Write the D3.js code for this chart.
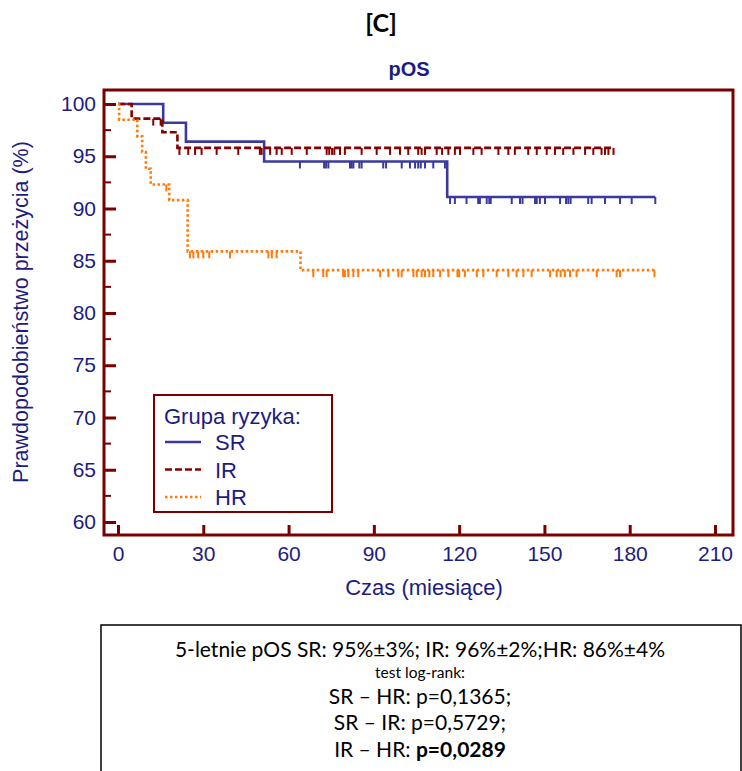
<!DOCTYPE html>
<html>
<head>
<meta charset="utf-8">
<script src="https://cdn.jsdelivr.net/npm/d3@7"></script>
<style>
  body { margin: 0; background: #fff; }
  svg { display: block; }
</style>
</head>
<body>
<svg id="chart" width="742" height="771"></svg>
<script>
// survival steps (months, %)
const srTimes = [0, 15.9, 23.9, 51.4, 115.8];
const srSurv = [100, 98.2, 96.4, 94.5, 91.1];
const srEnd = 189;
const srCens = [64, 72.5, 73.2, 74, 81.6, 82.2, 82.8, 84.9, 85.7, 93.3, 94.3, 99.8, 102.7, 104.5, 105.6, 106.5, 108, 110.9, 115,
  116.8, 118.5, 122.6, 126.7, 127.3, 129.7, 130.6, 131.1, 138.5, 141.4, 142.3, 146.7, 147.3, 148.4, 150.2, 155.5, 157.6, 158.4,
  159.2, 165.4, 166.6, 171.3, 176.6, 180.7, 189];

const irTimes = [0, 4.8, 15.6, 20.9];
const irSurv = [100, 98.6, 97.3, 95.8];
const irEnd = 174.5;
const irCens = [12.4, 15, 21.6, 24.7, 27.1, 29.4, 34.7, 42.3, 49.9, 50.5, 53.5, 55.8, 57.6, 61.1, 66.4, 73.4, 74.3, 75.3, 76.1,
  78.1, 79.8, 85.7, 91, 95.7, 99.2, 102.1, 105.6, 106.8, 108, 112.1, 114, 116.2, 118.5, 120.3, 125, 127.9, 133.8, 137.3, 139.6,
  144.3, 147.3, 150.8, 153.7, 156.6, 160.2, 164.3, 167.2, 170.1, 171.3, 172.5, 174.3];

const hrTimes = [0, 0.4, 6.8, 8.5, 9.8, 11.5, 18, 24.5, 64.2];
const hrSurv = [100, 98.5, 96.9, 95.4, 93.8, 92.3, 90.8, 85.9, 84.1];
const hrEnd = 189;
const hrCens = [17, 25.3, 26.5, 28.2, 30, 32.1, 39.4, 52.9, 54.1, 55.8, 68.7, 72.2, 73.4, 79.2, 79.8, 81, 82.8, 84.5, 92.2, 95.1,
  98.6, 99.8, 103.9, 105.1, 106.8, 108, 109.5, 110.9, 113.3, 116.2, 119.4, 120, 122, 126.2, 128.5, 133.2, 137.3, 140.2, 142.6,
  145.5, 152, 154.3, 155.7, 157.2, 159, 161.3, 168.4, 175.4, 176.6, 188.7];

const xTicks = [0, 30, 60, 90, 120, 150, 180, 210];
const yTicks = [60, 65, 70, 75, 80, 85, 90, 95, 100];
const legendLabels = ['SR', 'IR', 'HR'];
const statLines = [
  '5-letnie pOS SR: 95%±3%; IR: 96%±2%;HR: 86%±4%',
  'test log-rank:',
  'SR – HR: p=0,1365;',
  'SR – IR: p=0,5729;'
];

const frameCol = '#7a0000';
const navy = '#1c1c80';
const font = 'Liberation Sans, Arial, sans-serif';
const series = [
  { name: 'SR', times: srTimes, surv: srSurv, end: srEnd, cens: srCens, color: '#3a3a9e', dash: null },
  { name: 'IR', times: irTimes, surv: irSurv, end: irEnd, cens: irCens, color: '#850000', dash: '7,3' },
  { name: 'HR', times: hrTimes, surv: hrSurv, end: hrEnd, cens: hrCens, color: '#ff7a0a', dash: '2.5,2.5' }
];

const svg = d3.select('#chart');
svg.append('rect').attr('width', 742).attr('height', 771).attr('fill', '#fff');

const box = { left: 104, top: 90, right: 733, bottom: 535 };

const xScale = d3.scaleLinear().domain([0, 210]).range([118, 715]);
const yScale = d3.scaleLinear().domain([60, 100]).range([522, 104]);

// titles
svg.append('text').attr('x', 381).attr('y', 32).attr('text-anchor', 'middle')
  .style('font-family', 'Lato, Carlito, sans-serif').style('font-weight', 'bold').style('font-size', '25px')
  .attr('fill', '#000').text('[C]');
svg.append('text').attr('x', 409).attr('y', 76).attr('text-anchor', 'middle')
  .style('font-family', font).style('font-weight', 'bold').style('font-size', '20px')
  .attr('fill', navy).text('pOS');

// y axis
const yAxis = d3.axisLeft(yScale).tickValues(yTicks).tickSize(-12).tickPadding(8);
const yG = svg.append('g').attr('transform', `translate(${box.left},0)`).call(yAxis);
yG.select('.domain').remove();
yG.selectAll('.tick line').attr('stroke', frameCol).attr('stroke-width', 3);
yG.selectAll('.tick text').attr('fill', navy).style('font-family', font).style('font-size', '21px');

const yMinor = d3.range(62.5, 100, 5);
svg.append('g').selectAll('line').data(yMinor).join('line')
  .attr('x1', box.left).attr('x2', box.left + 7)
  .attr('y1', d => yScale(d)).attr('y2', d => yScale(d))
  .attr('stroke', frameCol).attr('stroke-width', 2);

// x axis
const xAxis = d3.axisBottom(xScale).tickValues(xTicks).tickSize(-10).tickPadding(11);
const xG = svg.append('g').attr('transform', `translate(0,${box.bottom})`).call(xAxis);
xG.select('.domain').remove();
xG.selectAll('.tick line').attr('stroke', frameCol).attr('stroke-width', 3);
xG.selectAll('.tick text').attr('fill', navy).style('font-family', font).style('font-size', '21px');

// frame
svg.append('rect')
  .attr('x', box.left).attr('y', box.top)
  .attr('width', box.right - box.left).attr('height', box.bottom - box.top)
  .attr('fill', 'none').attr('stroke', frameCol).attr('stroke-width', 3);

// axis titles
svg.append('text').attr('x', 424).attr('y', 595).attr('text-anchor', 'middle')
  .style('font-family', font).style('font-size', '22px').attr('fill', navy).text('Czas (miesiące)');
svg.append('text').attr('transform', 'translate(28,312) rotate(-90)').attr('text-anchor', 'middle')
  .style('font-family', font).style('font-size', '21.5px').attr('fill', navy).text('Prawdopodobieństwo przeżycia (%)');

// curves
const stepLine = d3.line().x(d => xScale(d[0])).y(d => yScale(d[1])).curve(d3.curveStepAfter);
function survAt(s, t) {
  let v = s.surv[0];
  s.times.forEach((tt, i) => { if (tt <= t) v = s.surv[i]; });
  return v;
}

series.forEach(s => {
  const pts = s.times.map((t, i) => [t, s.surv[i]]);
  pts.push([s.end, s.surv[s.surv.length - 1]]);
  svg.append('path').datum(pts)
    .attr('d', stepLine)
    .attr('fill', 'none').attr('stroke', s.color).attr('stroke-width', 2.6)
    .attr('stroke-dasharray', s.dash);
  svg.append('g').selectAll('line').data(s.cens).join('line')
    .attr('x1', d => xScale(d)).attr('x2', d => xScale(d))
    .attr('y1', d => yScale(survAt(s, d))).attr('y2', d => yScale(survAt(s, d)) + 7)
    .attr('stroke', s.color).attr('stroke-width', 2);
});

// legend
const lg = svg.append('g').attr('transform', 'translate(154,395)');
lg.append('rect').attr('width', 178).attr('height', 117).attr('fill', '#fff')
  .attr('stroke', frameCol).attr('stroke-width', 2);
lg.append('text').attr('x', 10).attr('y', 29).style('font-family', font).style('font-size', '22px')
  .attr('fill', navy).text('Grupa ryzyka:');
legendLabels.forEach((lab, i) => {
  const s = series[i];
  const yy = 47 + i * 27.5;
  lg.append('line').attr('x1', 11).attr('x2', 47).attr('y1', yy).attr('y2', yy)
    .attr('stroke', s.color).attr('stroke-width', 2.6).attr('stroke-dasharray', s.dash);
  lg.append('text').attr('x', 61).attr('y', yy + 8).style('font-family', font).style('font-size', '22px')
    .attr('fill', navy).text(lab);
});

// stats box
svg.append('rect').attr('x', 101).attr('y', 625).attr('width', 640).attr('height', 170)
  .attr('fill', '#fff').attr('stroke', '#000').attr('stroke-width', 1.5);
const statFont = 'Lato, Carlito, sans-serif';
const statY = [657, 678, 704, 730];
const statSize = [21, 15.5, 21, 21];
statLines.forEach((t, i) => {
  svg.append('text').attr('x', 420).attr('y', statY[i]).attr('text-anchor', 'middle')
    .style('font-family', statFont).style('font-size', statSize[i] + 'px').attr('fill', '#000').text(t);
});
const last = svg.append('text').attr('x', 420).attr('y', 757).attr('text-anchor', 'middle')
  .style('font-family', statFont).style('font-size', '21px').attr('fill', '#000');
last.append('tspan').text('IR – HR: ');
last.append('tspan').style('font-weight', 'bold').text('p=0,0289');
</script>
</body>
</html>
